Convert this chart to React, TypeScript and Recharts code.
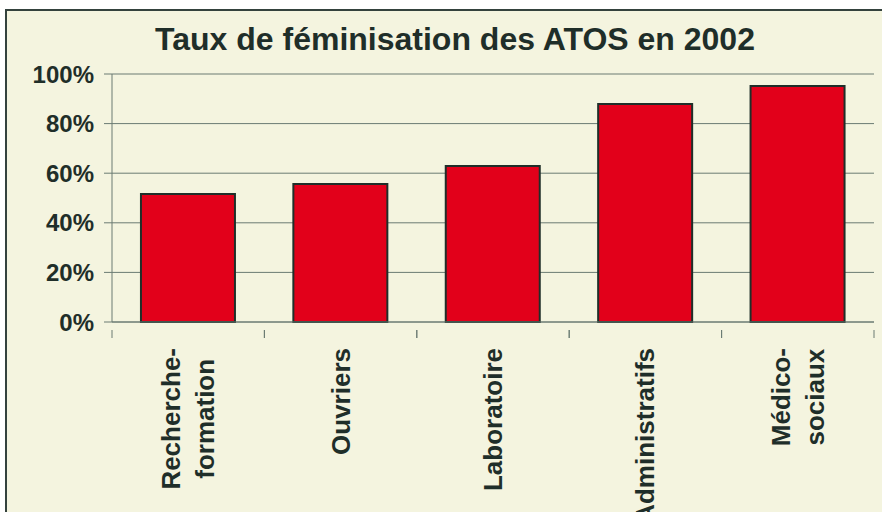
import { BarChart, Bar, XAxis, YAxis, CartesianGrid } from 'recharts';

const categories = ['Recherche-\nformation', 'Ouvriers', 'Laboratoire', 'Administratifs', 'Médico-\nsociaux'];
const rates = [0.516, 0.556, 0.629, 0.879, 0.952];
const yTicks = [0, 0.2, 0.4, 0.6, 0.8, 1];
const title = 'Taux de féminisation des ATOS en 2002';

const FONT = "'Liberation Sans', Arial, Helvetica, sans-serif";
const INK = '#1f2e29';
const GRID = '#6b7b73';
const BG = '#f4f4df';

const data = categories.map((name, i) => ({ name, value: rates[i] }));

let ctx: CanvasRenderingContext2D | null = null;
function measure(text: string) {
  if (!ctx) ctx = document.createElement('canvas').getContext('2d');
  if (!ctx) return text.length * 14;
  ctx.font = `bold 26px ${FONT}`;
  return ctx.measureText(text).width;
}

function CategoryTick(props: any) {
  const { x, y, payload, width } = props;
  const band = (width || 762) / categories.length;
  const lines: string[] = String(payload.value).split('\n');
  const longest = Math.max(...lines.map(measure));
  const cy = y + 18 + longest / 2;
  return (
    <g>
      <line x1={x - band / 2} y1={y} x2={x - band / 2} y2={y + 8} stroke={GRID} />
      <line x1={x + band / 2} y1={y} x2={x + band / 2} y2={y + 8} stroke={GRID} />
      {lines.map((ln, i) => {
        const bx = x + 9 + (i - (lines.length - 1) / 2) * 34;
        return (
          <text
            key={i}
            transform={`translate(${bx}, ${cy}) rotate(-90)`}
            textAnchor="middle"
            fontFamily={FONT}
            fontWeight="bold"
            fontSize={26}
            fill={INK}
          >
            {ln}
          </text>
        );
      })}
    </g>
  );
}

export default function App() {
  return (
    <div style={{ position: 'absolute', left: 0, top: 0, width: 882, height: 512, overflow: 'hidden', background: '#fff' }}>
      <div
        style={{
          position: 'absolute',
          left: 5,
          top: 9,
          width: 920,
          height: 600,
          border: '2px solid #34423d',
          background: BG,
        }}
      />
      <svg width={882} height={512} style={{ position: 'absolute', left: 0, top: 0 }}>
        <text x={455} y={50} textAnchor="middle" fontFamily={FONT} fontWeight="bold" fontSize={32} fill={INK}>
          {title}
        </text>
      </svg>
      <div style={{ position: 'absolute', left: 0, top: 0 }}>
        <BarChart
          width={882}
          height={512}
          data={data}
          margin={{ top: 74, right: 8, left: 0, bottom: 0 }}
          barCategoryGap="19%"
        >
          <CartesianGrid vertical={false} stroke={GRID} strokeWidth={1} />
          <YAxis
            width={112}
            domain={[0, 1]}
            ticks={yTicks}
            interval={0}
            tickFormatter={(v: number) => `${Math.round(v * 100)}%`}
            axisLine={{ stroke: GRID }}
            tickLine={{ stroke: GRID }}
            tickSize={8}
            tickMargin={10}
            tick={{ fontFamily: FONT, fontWeight: 'bold', fontSize: 24, fill: INK }}
          />
          <XAxis
            dataKey="name"
            height={190}
            interval={0}
            axisLine={{ stroke: GRID }}
            tickLine={false}
            tick={<CategoryTick />}
          />
          <Bar dataKey="value" fill="#e2001a" stroke={INK} strokeWidth={2} isAnimationActive={false} />
        </BarChart>
      </div>
    </div>
  );
}
